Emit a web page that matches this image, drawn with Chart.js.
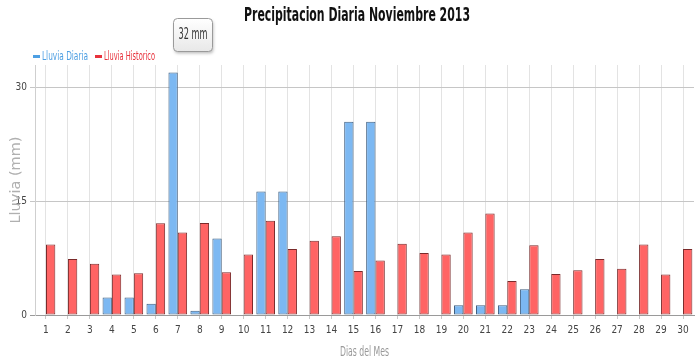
<!DOCTYPE html>
<html>
<head>
<meta charset="utf-8">
<script src="https://cdn.jsdelivr.net/npm/chart.js@4.4.1/dist/chart.umd.min.js"></script>
<style>
html,body{margin:0;padding:0;background:#fff;}
#wrap{width:700px;height:363px;position:relative;}
</style>
</head>
<body>
<div id="wrap"><canvas id="c"></canvas></div>
<script>
const days = ['1','2','3','4','5','6','7','8','9','10','11','12','13','14','15','16','17','18','19','20','21','22','23','24','25','26','27','28','29','30'];
const lluviaDiaria = [0,0,0,2.3,2.3,1.5,32,0.55,10.1,0,16.3,16.3,0,0,25.5,25.5,0,0,0,1.3,1.3,1.3,3.4,0,0,0,0,0,0,0];
const lluviaHistorico = [9.3,7.4,6.75,5.35,5.5,12.1,10.9,12.15,5.65,8.0,12.45,8.7,9.8,10.4,5.8,7.2,9.4,8.2,8.0,10.9,13.4,4.5,9.2,5.4,5.9,7.4,6.1,9.3,5.35,8.7];
const yTicks = [0,15,30];
const titleText = 'Precipitacion Diaria Noviembre 2013';
const seriesNames = ['Lluvia Diaria','Lluvia Historico'];
const yTitle = 'Lluvia (mm)';
const xTitle = 'Dias del Mes';
const tooltipIndex = 6;

const NARROW = "'Liberation Sans Narrow','DejaVu Sans Condensed','Liberation Sans',sans-serif";

function fitText(ctx, s, x, y, font, color, width, align) {
  ctx.save();
  ctx.font = font;
  const w = ctx.measureText(s).width;
  const sx = width / w;
  ctx.translate(x, y);
  ctx.scale(sx, 1);
  ctx.fillStyle = color;
  ctx.textAlign = align || 'center';
  ctx.textBaseline = 'middle';
  ctx.fillText(s, 0, 0);
  ctx.restore();
}

const decor = {
  id: 'decor',
  afterDraw(chart) {
    const ctx = chart.ctx;
    const area = chart.chartArea;
    // Title
    fitText(ctx, titleText, 357, 16, "bold 20px " + NARROW, '#111', 226);
    // Legend
    ctx.fillStyle = '#4d9fe3';
    ctx.fillRect(33, 55, 7, 3);
    fitText(ctx, seriesNames[0], 42, 56.5, "12px " + NARROW, '#4d9fe3', 46, 'left');
    ctx.fillStyle = '#e8323c';
    ctx.fillRect(95, 55, 7, 3);
    fitText(ctx, seriesNames[1], 104, 56.5, "12px " + NARROW, '#e8323c', 51, 'left');
    // Y title
    ctx.save();
    ctx.translate(16, 180);
    ctx.rotate(-Math.PI / 2);
    fitText(ctx, yTitle, 0, 0, "14px 'DejaVu Sans',sans-serif", '#b0b0b0', 87);
    ctx.restore();
    // X title
    fitText(ctx, xTitle, (area.left + area.right) / 2, 352, "14px " + NARROW, '#999', 49);
    // Tooltip
    const bar = chart.getDatasetMeta(0).data[tooltipIndex];
    const cx = bar.x + 19;
    const bw = 39, bh = 33;
    const bx = Math.round(cx - bw / 2) + 0.5, by = 18.5;
    ctx.save();
    ctx.shadowColor = 'rgba(0,0,0,0.25)';
    ctx.shadowBlur = 3;
    ctx.shadowOffsetX = 1;
    ctx.shadowOffsetY = 2;
    const g = ctx.createLinearGradient(0, by, 0, by + bh);
    g.addColorStop(0, '#ffffff');
    g.addColorStop(1, '#e8e8e8');
    ctx.fillStyle = g;
    ctx.beginPath();
    ctx.roundRect(bx, by, bw, bh, 4);
    ctx.fill();
    ctx.shadowColor = 'transparent';
    ctx.strokeStyle = '#9a9a9a';
    ctx.lineWidth = 1;
    ctx.stroke();
    ctx.restore();
    fitText(ctx, lluviaDiaria[tooltipIndex] + ' mm', bx + bw / 2, by + bh / 2, "15px " + NARROW, '#333', 29);
  }
};

new Chart(document.getElementById('c'), {
  type: 'bar',
  data: {
    labels: days,
    datasets: [
      { label: seriesNames[0], data: lluviaDiaria, backgroundColor: '#7cb8f2', borderColor: '#3f5f80', borderWidth: 1, borderSkipped: false },
      { label: seriesNames[1], data: lluviaHistorico, backgroundColor: '#ff6464', borderColor: '#7a2a2a', borderWidth: 1, borderSkipped: false }
    ]
  },
  options: {
    responsive: true,
    maintainAspectRatio: false,
    animation: false,
    events: [],
    layout: { padding: { top: 65, right: 6, left: 0, bottom: 0 } },
    datasets: { bar: { categoryPercentage: 0.85, barPercentage: 1 } },
    plugins: { legend: { display: false }, title: { display: false }, tooltip: { enabled: false } },
    scales: {
      x: {
        offset: true,
        grid: { offset: false, color: '#e3e3e3', lineWidth: 1, drawTicks: true, tickLength: 4, tickColor: '#c8c8c8' },
        border: { display: true, color: '#9a9a9a', width: 1 },
        ticks: { font: { size: 10, family: NARROW }, color: '#444', padding: 5, maxRotation: 0, autoSkip: false },
        afterFit(s) { s.height = 48; }
      },
      y: {
        min: 0, max: 33,
        afterBuildTicks(s) { s.ticks = yTicks.map(v => ({ value: v })); },
        grid: { color: (c) => c.tick && c.tick.value === 0 ? '#9a9a9a' : '#c6c6c6', drawTicks: true, tickLength: 5 },
        border: { display: true, color: '#cfcfcf', width: 1 },
        ticks: { font: { size: 10, family: NARROW }, color: '#444', padding: 3 },
        afterFit(s) { s.width = 35; }
      }
    }
  },
  plugins: [decor]
});
</script>
</body>
</html>
